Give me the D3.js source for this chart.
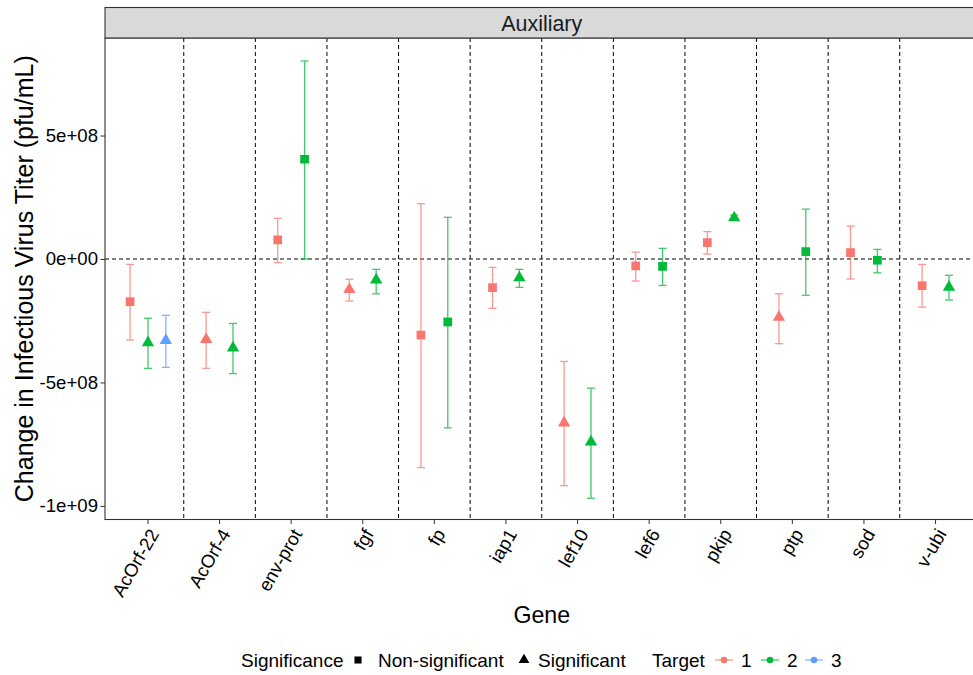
<!DOCTYPE html>
<html><head><meta charset="utf-8">
<script src="https://cdn.jsdelivr.net/npm/d3@7"></script>
<style>body{margin:0;background:#fff}svg{display:block;font-family:"Liberation Sans",Arial,sans-serif}</style>
</head><body><svg id="c" width="973" height="675"></svg>
<script>
// ---- data (values in pfu/mL) ----
const genes = ["AcOrf-22","AcOrf-4","env-prot","fgf","fp","iap1","lef10","lef6","pkip","ptp","sod","v-ubi"];
const targets = ["1","2","3"];
const targetColors = ["#F8766D","#00BA38","#619CFF"];
const yTicks = [-1e9,-5e8,0,5e8];
const yTickLabels = ["-1e+09","-5e+08","0e+00","5e+08"];
// Target 1
const t1Mean = [-1.73,-3.26,0.77,-1.23,-3.08,-1.16,-6.64,-0.28,0.66,-2.36,0.26,-1.08].map(v=>v*1e8);
const t1Low  = [-3.28,-4.43,-0.15,-1.70,-8.45,-2.00,-9.18,-0.89,0.20,-3.43,-0.81,-1.95].map(v=>v*1e8);
const t1High = [-0.22,-2.16,1.65,-0.82,2.24,-0.34,-4.15,0.28,1.11,-1.41,1.33,-0.22].map(v=>v*1e8);
const t1Sig  = ["N","S","N","S","N","N","S","N","N","S","N","N"];
// Target 2
const t2Mean = [-3.39,-3.60,4.04,-0.85,-2.55,-0.76,-7.41,-0.30,1.67,0.30,-0.05,-1.14].map(v=>v*1e8);
const t2Low  = [-4.43,-4.64,0.00,-1.41,-6.84,-1.15,-9.69,-1.07,1.58,-1.47,-0.56,-1.66].map(v=>v*1e8);
const t2High = [-2.40,-2.61,8.02,-0.42,1.69,-0.42,-5.23,0.43,1.78,2.02,0.39,-0.66].map(v=>v*1e8);
const t2Sig  = ["S","S","N","S","N","S","S","N","S","N","N","S"];
// Target 3 (only AcOrf-22)
const t3Gene = ["AcOrf-22"];
const t3Mean = [-3.30e8];
const t3Low  = [-4.39e8];
const t3High = [-2.28e8];
const t3Sig  = ["S"];

const rows = [];
genes.forEach((g,i)=>{
  rows.push({gene:g,target:"1",mean:t1Mean[i],low:t1Low[i],high:t1High[i],sig:t1Sig[i]});
  rows.push({gene:g,target:"2",mean:t2Mean[i],low:t2Low[i],high:t2High[i],sig:t2Sig[i]});
});
t3Gene.forEach((g,i)=>rows.push({gene:g,target:"3",mean:t3Mean[i],low:t3Low[i],high:t3High[i],sig:t3Sig[i]}));

// ---- layout ----
const svg = d3.select("#c");
const L=105, R=978.5, T=38, B=519.5;
const x = d3.scaleLinear().domain([0.4,12.6]).range([L,R]);
const y = d3.scaleLinear().domain([-10.55e8,8.95e8]).range([B,T]);
const color = d3.scaleOrdinal().domain(targets).range(targetColors);

svg.append("clipPath").attr("id","pc").append("rect").attr("x",L).attr("y",T).attr("width",R-L).attr("height",B-T);
const g = svg.append("g").attr("clip-path","url(#pc)");

// vertical separators
d3.range(1,12).forEach(k=>{
  g.append("line").attr("x1",x(k+0.5)).attr("x2",x(k+0.5)).attr("y1",T).attr("y2",B)
   .attr("stroke","#000").attr("stroke-width",1).attr("stroke-dasharray","4,3");
});
g.append("line").attr("x1",L).attr("x2",R).attr("y1",y(0)).attr("y2",y(0))
 .attr("stroke","#000").attr("stroke-width",1).attr("stroke-dasharray","4,3");

// dodge positions
const nPerGene = d3.rollup(rows,v=>v.length,d=>d.gene);
function px(d){
  const n = nPerGene.get(d.gene);
  const gi = genes.indexOf(d.gene)+1;
  const idx = rows.filter(r=>r.gene===d.gene).map(r=>r.target).indexOf(d.target);
  const w = 0.75;
  return x(gi - w/2 + w/n*(idx+0.5));
}
const cap = 4;
const eb = g.selectAll("g.eb").data(rows).join("g").attr("stroke",d=>color(d.target))
  .attr("stroke-width",1.3).attr("opacity",0.75);
eb.append("line").attr("x1",px).attr("x2",px).attr("y1",d=>y(d.low)).attr("y2",d=>y(d.high));
eb.append("line").attr("x1",d=>px(d)-cap).attr("x2",d=>px(d)+cap).attr("y1",d=>y(d.low)).attr("y2",d=>y(d.low));
eb.append("line").attr("x1",d=>px(d)-cap).attr("x2",d=>px(d)+cap).attr("y1",d=>y(d.high)).attr("y2",d=>y(d.high));

const sq = d3.symbol().type(d3.symbolSquare).size(76);
const tri = d3.symbol().type(d3.symbolTriangle).size(66);
g.selectAll("path.pt").data(rows).join("path")
  .attr("transform",d=>`translate(${px(d)},${y(d.mean)})`)
  .attr("d",d=>d.sig==="S"?tri():sq())
  .attr("fill",d=>color(d.target));

// panel border
svg.append("rect").attr("x",L).attr("y",T).attr("width",R-L).attr("height",B-T)
  .attr("fill","none").attr("stroke","#333").attr("stroke-width",1.1);
// strip
svg.append("rect").attr("x",L).attr("y",7.5).attr("width",R-L).attr("height",T-7.5)
  .attr("fill","#d9d9d9").attr("stroke","#333").attr("stroke-width",1.1);
svg.append("text").attr("x",(L+R)/2).attr("y",31).attr("text-anchor","middle")
  .attr("font-size",21.4).attr("fill","#1a1a1a").text("Auxiliary");

// y axis
const ya = svg.append("g").attr("transform",`translate(${L},0)`)
  .call(d3.axisLeft(y).tickValues(yTicks).tickFormat((d,i)=>yTickLabels[i]).tickSize(4.5).tickPadding(2.5));
ya.select(".domain").remove();
ya.selectAll(".tick line").attr("stroke","#333");
ya.selectAll(".tick text").attr("font-size",18.6).attr("fill","#000").attr("font-family","Liberation Sans, Arial, sans-serif");

// x axis
const xa = svg.append("g").attr("transform",`translate(0,${B})`);
genes.forEach((gn,i)=>{
  const xx = x(i+1);
  xa.append("line").attr("x1",xx).attr("x2",xx).attr("y1",0).attr("y2",4.5).attr("stroke","#333");
  xa.append("text").attr("transform",`translate(${xx+6},${11}) rotate(-60)`)
    .attr("text-anchor","end").attr("dy","0.35em").attr("font-size",18.6).attr("fill","#000").text(gn);
});

// titles
svg.append("text").attr("x",(L+R)/2).attr("y",623).attr("text-anchor","middle")
  .attr("font-size",23.2).attr("fill","#000").text("Gene");
svg.append("text").attr("transform",`translate(33,${(T+B)/2}) rotate(-90)`).attr("text-anchor","middle")
  .attr("font-size",25).attr("fill","#000").text("Change in Infectious Virus Titer (pfu/mL)");

// legend
const ly = 660;
const lg = svg.append("g").attr("font-size",19).attr("fill","#000");
lg.append("text").attr("x",241).attr("y",ly+7).text("Significance");
lg.append("path").attr("transform",`translate(358,${ly})`).attr("d",d3.symbol().type(d3.symbolSquare).size(50)()).attr("fill","#000");
lg.append("text").attr("x",378).attr("y",ly+7).text("Non-significant");
lg.append("path").attr("transform",`translate(524,${ly})`).attr("d",d3.symbol().type(d3.symbolTriangle).size(50)()).attr("fill","#000");
lg.append("text").attr("x",538).attr("y",ly+7).text("Significant");
lg.append("text").attr("x",652).attr("y",ly+7).text("Target");
const keyX = [715,761,805];
targets.forEach((t,i)=>{
  const kx = keyX[i];
  lg.append("line").attr("x1",kx).attr("x2",kx+18).attr("y1",ly).attr("y2",ly).attr("stroke",color(t)).attr("stroke-width",1.3).attr("opacity",0.75);
  lg.append("circle").attr("cx",kx+9).attr("cy",ly).attr("r",3.3).attr("fill",color(t));
  lg.append("text").attr("x",kx+26).attr("y",ly+7).text(t);
});
</script></body></html>
